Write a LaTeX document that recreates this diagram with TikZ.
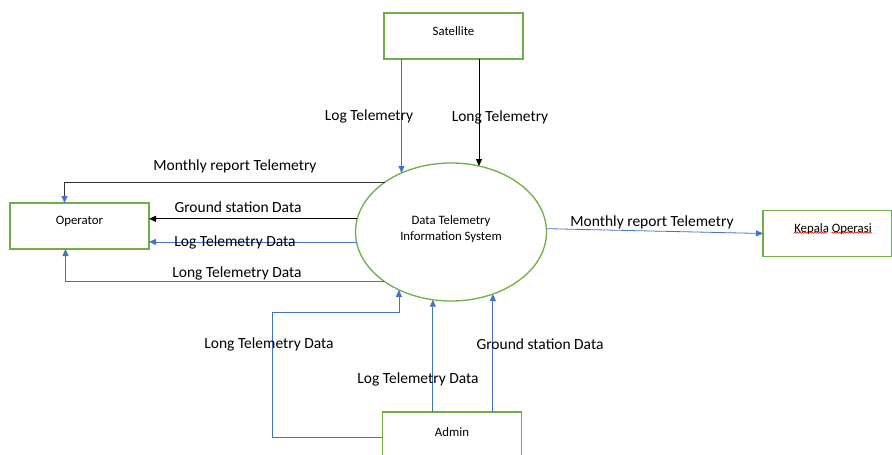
\documentclass[tikz,border=0pt]{standalone}
\usepackage{fontspec}
\setmainfont{Carlito}
\usetikzlibrary{arrows.meta,shapes.geometric,decorations.pathmorphing,calc}
\definecolor{grn}{HTML}{70AD47}
\definecolor{blu}{HTML}{4472C4}
\tikzset{
  box/.style={draw=grn,line width=1.3pt,minimum width=139pt,minimum height=46pt,inner sep=0pt,outer sep=0pt},
  txt/.style={inner sep=0pt,font=\fontsize{12.8}{16}\selectfont,align=center},
  proc/.style={draw=grn,line width=1.3pt,ellipse,minimum width=191pt,minimum height=138pt,inner sep=0pt,outer sep=0pt},
  bl/.style={draw=blu,line width=0.8pt,-{Triangle[length=7pt,width=6pt]}},
  bk/.style={draw=black,line width=0.8pt,-{Triangle[length=7pt,width=6pt]}},
  lbl/.style={inner sep=0pt,font=\fontsize{15.5}{18}\selectfont},
  squig/.style={draw=red!85!black,line width=0.5pt,decorate,decoration={snake,amplitude=0.7pt,segment length=2.5pt}}
}
\begin{document}
\begin{tikzpicture}[x=1pt,y=-1pt]
\useasboundingbox (0,0) rectangle (892,455);
\node[box] (sat) at (453.5,36) {};
\node[txt] (satt) at (453.5,31) {Satellite};
\node[box] (op) at (79.5,226) {};
\node[txt] (opt) at (79.5,221) {Operator};
\node[box,minimum width=129pt] (kep) at (827.5,233.5) {};
\node[txt] (kept) at (833,229) {Kepala Operasi};
\node[box,minimum height=50pt] (adm) at (452,437) {};
\node[txt] (admt) at (452,432) {Admin};
\node[proc] (sys) at (451,232) {};
\node[txt] (syst) at (451,229) {Data Telemetry\\Information System};
% spell-check underline
\coordinate (u1) at ([yshift=2pt]kept.south west);
\coordinate (u2) at ([yshift=2pt]kept.south east);
\draw[squig] (u1) -- ($(u1)!0.43!(u2)$);
\draw[squig] ($(u1)!0.48!(u2)$) -- (u2);
% satellite to system
\draw[bl] (sat.south -| sys.130.4) -- (sys.130.4);
\draw[bk] (sat.south -| sys.67.8) -- (sys.67.8);
% system to operator
\draw[draw=black!80,line width=0.8pt,-{Triangle[length=7pt,width=6pt,fill=blu,color=blu]}] (sys.143.3) -| ([xshift=-15pt]op.north);
\draw[bk] (sys.172.1) -- (op.east |- sys.172.1);
\draw[bl] (sys.186) -- (op.east |- sys.186);
\draw[bl] (sys.216.1) -| ([xshift=-14pt]op.south);
% system to kepala
\draw[bl] (sys.2.5) -- (kep.west);
% admin to system
\coordinate (c1) at (272,312);
\draw[bl] (adm.west) -| (c1) -| (sys.228.8);
\draw[bl] (adm.north -| sys.255.1) -- (sys.255.1);
\draw[bl] (adm.north -| sys.304.1) -- (sys.304.1);
% labels
\node[lbl] (l1) at (369,116) {Log Telemetry};
\node[lbl] (l2) at (500,117) {Long Telemetry};
\node[lbl] (l3) at (235,166) {Monthly report Telemetry};
\node[lbl] (l4) at (238,207) {Ground station Data};
\node[lbl] (l5) at (235,242) {Log Telemetry Data};
\node[lbl] (l6) at (237,273) {Long Telemetry Data};
\node[lbl] (l7) at (652,222) {Monthly report Telemetry};
\node[lbl] (l8) at (269,344) {Long Telemetry Data};
\node[lbl] (l9) at (418,379) {Log Telemetry Data};
\node[lbl] (l10) at (540,344) {Ground station Data};
\end{tikzpicture}
\end{document}
